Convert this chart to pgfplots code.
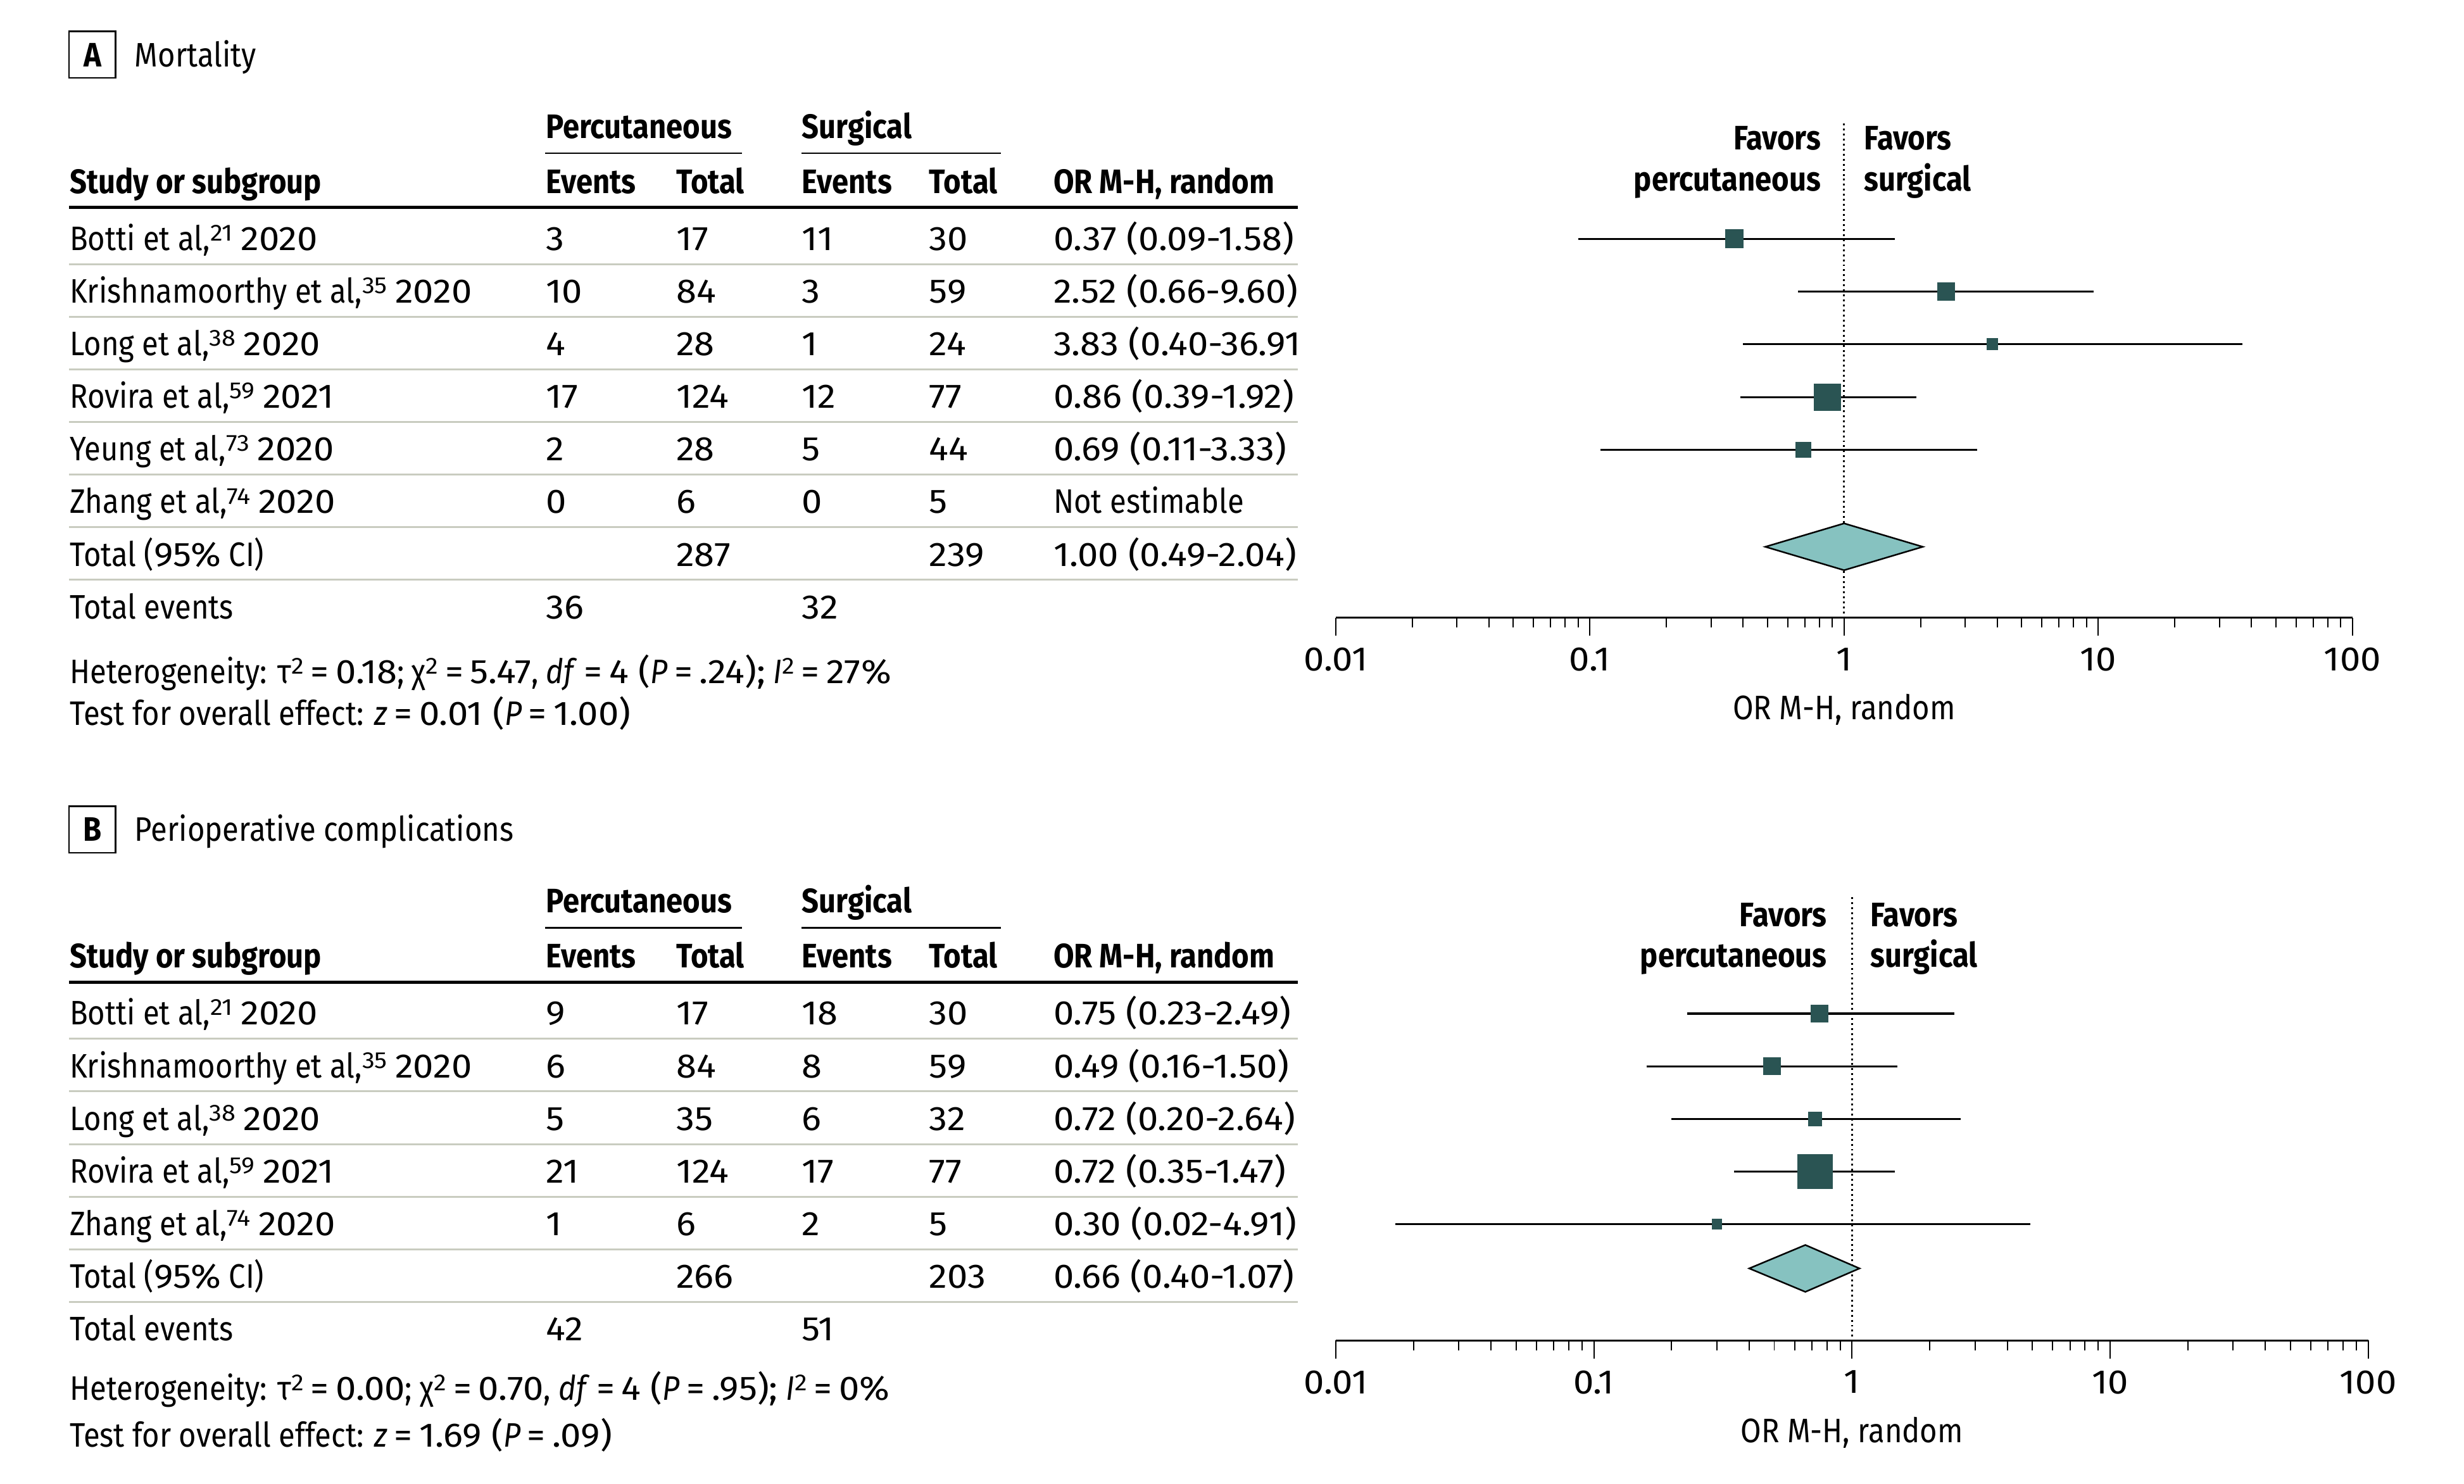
\documentclass[border=0pt]{standalone}
\usepackage{pgfplots}
\pgfplotsset{compat=1.18}
\usepackage{fontspec}
\setmainfont{Fira Sans}[FakeStretch=0.88]
\newfontfamily\nf{Fira Sans}[FakeStretch=1.08]
\definecolor{sqc}{HTML}{2A5453}
\definecolor{diac}{HTML}{86C2C0}
\definecolor{sepc}{HTML}{C9CCC0}

\newcommand\sps[1]{\raisebox{3.0pt}{\fontsize{7.4}{8}\selectfont\nf #1}}
\newcommand\eq{\kern0.2em{\nf=}\kern0.2em}

\tikzset{
  ci/.style={black, line width=0.65pt},
  sqm/.style={only marks, mark=square*, mark options={fill=sqc, draw=sqc}},
  diam/.style={fill=diac, draw=black, line width=0.5pt},
}

\begin{document}
\fontsize{10.8}{13}\selectfont
\begin{tikzpicture}
\begin{scope}[x=0.5pt, y=-0.5pt]
\useasboundingbox (0,0) rectangle (1568,944);

% panel titles and table headers
\foreach \off/\lab/\ttl in {0/A/Mortality, 493/B/Perioperative complications} {
  \draw[line width=0.5pt] (44,20+\off) rectangle (73.5,49.6+\off);
  \node[anchor=base, inner sep=0, font=\bfseries] at (58.8,42.3+\off) {\lab};
  \node[anchor=base west, inner sep=0] at (85.4,42.3+\off) {\ttl};
  \node[anchor=base west, inner sep=0, font=\bfseries] at (347,87.9+\off) {Percutaneous};
  \node[anchor=base west, inner sep=0, font=\bfseries] at (510,87.9+\off) {Surgical};
  \draw[line width=0.5pt] (347,97.4+\off) -- (472,97.4+\off);
  \draw[line width=0.5pt] (510,97.4+\off) -- (637,97.4+\off);
  \foreach \x/\t in {44/Study or subgroup, 347/Events, 430/Total, 510/Events, 591/Total, 670/{OR M-H, random}}
    \node[anchor=base west, inner sep=0, font=\bfseries] at (\x,122.9+\off) {\t};
  \draw[line width=1pt] (44,132+\off) -- (826,132+\off);
}

% panel A rows
\foreach \k/\nm/\ea/\ta/\eb/\tb/\orv in {
  1/{Botti et al,\sps{21} {\nf 2020}}/3/17/11/30/{\nf 0.37 (0.09-1.58)},
  2/{Krishnamoorthy et al,\sps{35} {\nf 2020}}/10/84/3/59/{\nf 2.52 (0.66-9.60)},
  3/{Long et al,\sps{38} {\nf 2020}}/4/28/1/24/{\nf 3.83 (0.40-36.91},
  4/{Rovira et al,\sps{59} {\nf 2021}}/17/124/12/77/{\nf 0.86 (0.39-1.92)},
  5/{Yeung et al,\sps{73} {\nf 2020}}/2/28/5/44/{\nf 0.69 (0.11-3.33)},
  6/{Zhang et al,\sps{74} {\nf 2020}}/0/6/0/5/{Not estimable},
  7/{Total ({\nf 95\%} CI)}//287//239/{\nf 1.00 (0.49-2.04)},
  8/{Total events}/36//32//{}} {
  \pgfmathsetmacro{\yb}{159.2+(\k-1)*33.5}
  \node[anchor=base west, inner sep=0] at (44,\yb) {\nm};
  \node[anchor=base west, inner sep=0] at (347,\yb) {\nf\ea};
  \node[anchor=base west, inner sep=0] at (430,\yb) {\nf\ta};
  \node[anchor=base west, inner sep=0] at (510,\yb) {\nf\eb};
  \node[anchor=base west, inner sep=0] at (591,\yb) {\nf\tb};
  \node[anchor=base west, inner sep=0] at (670,\yb) {\orv};
}
\foreach \k in {1,...,7}
  \draw[sepc, line width=0.6pt] (44,168+33.5*\k-33.5) -- (826,168+33.5*\k-33.5);

% panel B rows
\foreach \k/\nm/\ea/\ta/\eb/\tb/\orv in {
  1/{Botti et al,\sps{21} {\nf 2020}}/9/17/18/30/{\nf 0.75 (0.23-2.49)},
  2/{Krishnamoorthy et al,\sps{35} {\nf 2020}}/6/84/8/59/{\nf 0.49 (0.16-1.50)},
  3/{Long et al,\sps{38} {\nf 2020}}/5/35/6/32/{\nf 0.72 (0.20-2.64)},
  4/{Rovira et al,\sps{59} {\nf 2021}}/21/124/17/77/{\nf 0.72 (0.35-1.47)},
  5/{Zhang et al,\sps{74} {\nf 2020}}/1/6/2/5/{\nf 0.30 (0.02-4.91)},
  6/{Total ({\nf 95\%} CI)}//266//203/{\nf 0.66 (0.40-1.07)},
  7/{Total events}/42//51//{}} {
  \pgfmathsetmacro{\yb}{652.2+(\k-1)*33.5}
  \node[anchor=base west, inner sep=0] at (44,\yb) {\nm};
  \node[anchor=base west, inner sep=0] at (347,\yb) {\nf\ea};
  \node[anchor=base west, inner sep=0] at (430,\yb) {\nf\ta};
  \node[anchor=base west, inner sep=0] at (510,\yb) {\nf\eb};
  \node[anchor=base west, inner sep=0] at (591,\yb) {\nf\tb};
  \node[anchor=base west, inner sep=0] at (670,\yb) {\orv};
}
\foreach \k in {1,...,6}
  \draw[sepc, line width=0.6pt] (44,661+33.5*\k-33.5) -- (826,661+33.5*\k-33.5);

% footnotes
\node[anchor=base west, inner sep=0] at (44,435) {Heterogeneity: τ\sps{2}\eq{\nf 0.18}; χ\sps{2}\eq{\nf 5.47}, \textit{df}\eq{\nf 4 (}\textit{P}\eq{\nf .24);} \textit{I}\sps{2}\eq{\nf 27\%}};
\node[anchor=base west, inner sep=0] at (44,461.3) {Test for overall effect: \textit{z}\eq{\nf 0.01 (}\textit{P}\eq{\nf 1.00)}};
\node[anchor=base west, inner sep=0] at (44,891.1) {Heterogeneity: τ\sps{2}\eq{\nf 0.00}; χ\sps{2}\eq{\nf 0.70}, \textit{df}\eq{\nf 4 (}\textit{P}\eq{\nf .95);} \textit{I}\sps{2}\eq{\nf 0\%}};
\node[anchor=base west, inner sep=0] at (44,920.6) {Test for overall effect: \textit{z}\eq{\nf 1.69 (}\textit{P}\eq{\nf .09)}};

% favors labels
\foreach \off/\xl/\xr in {0/1159/1186, 494/1163/1190} {
  \node[anchor=base east, inner sep=0, font=\bfseries] at (\xl,95.4+\off) {Favors};
  \node[anchor=base east, inner sep=0, font=\bfseries] at (\xl,121.4+\off) {percutaneous};
  \node[anchor=base west, inner sep=0, font=\bfseries] at (\xr,95.4+\off) {Favors};
  \node[anchor=base west, inner sep=0, font=\bfseries] at (\xr,121.4+\off) {surgical};
}
\end{scope}

% panel A forest plot
\begin{axis}[at={(425pt,-196.5pt)}, anchor=south west,
  scale only axis, width=323.5pt, height=157.2pt,
  xmode=log, xmin=0.01, xmax=100, ymin=-1.188, ymax=8.183, y dir=reverse,
  axis x line*=bottom, axis y line=none, clip=false,
  xtick={0.01,0.1,1,10,100}, xticklabels={0.01,0.1,1,10,100},
  minor xtick={0.02,0.03,0.04,0.05,0.06,0.07,0.08,0.09,0.2,0.3,0.4,0.5,0.6,0.7,0.8,0.9,2,3,4,5,6,7,8,9,20,30,40,50,60,70,80,90},
  tick align=outside, major tick length=5.8pt, minor tick length=3.2pt,
  every tick/.style={black, line width=0.4pt},
  axis line style={black, line width=0.5pt},
  xticklabel style={font=\nf},
  xlabel={OR M-H, random},
  xlabel style={at={(axis description cs:0.5,0)}, anchor=base, yshift=-32.5pt}]
\addplot[black, densely dotted, line width=0.6pt] coordinates {(1,-1.188) (1,8.183)};
\addplot[ci] coordinates {(0.09,1) (1.58,1)};
\addplot[sqm, mark size=2.8pt] coordinates {(0.37,1)};
\addplot[ci] coordinates {(0.66,2) (9.60,2)};
\addplot[sqm, mark size=2.7pt] coordinates {(2.52,2)};
\addplot[ci] coordinates {(0.40,3) (36.91,3)};
\addplot[sqm, mark size=1.7pt] coordinates {(3.83,3)};
\addplot[ci] coordinates {(0.39,4) (1.92,4)};
\addplot[sqm, mark size=4.1pt] coordinates {(0.86,4)};
\addplot[ci] coordinates {(0.11,5) (3.33,5)};
\addplot[sqm, mark size=2.3pt] coordinates {(0.69,5)};
\addplot[diam] coordinates {(0.49,6.84) (1.00,6.396) (2.04,6.84) (1.00,7.284)} -- cycle;
\end{axis}

% panel B forest plot
\begin{axis}[at={(425pt,-426.5pt)}, anchor=south west,
  scale only axis, width=328.5pt, height=141pt,
  xmode=log, xmin=0.01, xmax=100, ymin=-1.209, ymax=7.209, y dir=reverse,
  axis x line*=bottom, axis y line=none, clip=false,
  xtick={0.01,0.1,1,10,100}, xticklabels={0.01,0.1,1,10,100},
  minor xtick={0.02,0.03,0.04,0.05,0.06,0.07,0.08,0.09,0.2,0.3,0.4,0.5,0.6,0.7,0.8,0.9,2,3,4,5,6,7,8,9,20,30,40,50,60,70,80,90},
  tick align=outside, major tick length=5.8pt, minor tick length=3.2pt,
  every tick/.style={black, line width=0.4pt},
  axis line style={black, line width=0.5pt},
  xticklabel style={font=\nf},
  xlabel={OR M-H, random},
  xlabel style={at={(axis description cs:0.5,0)}, anchor=base, yshift=-32.5pt}]
\addplot[black, densely dotted, line width=0.6pt] coordinates {(1,-1.209) (1,7.209)};
\addplot[ci] coordinates {(0.23,1) (2.49,1)};
\addplot[sqm, mark size=2.6pt] coordinates {(0.75,1)};
\addplot[ci] coordinates {(0.16,2) (1.50,2)};
\addplot[sqm, mark size=2.6pt] coordinates {(0.49,2)};
\addplot[ci] coordinates {(0.20,3) (2.64,3)};
\addplot[sqm, mark size=2.1pt] coordinates {(0.72,3)};
\addplot[ci] coordinates {(0.35,4) (1.47,4)};
\addplot[sqm, mark size=5.4pt] coordinates {(0.72,4)};
\addplot[ci] coordinates {(0.017,5) (4.91,5)};
\addplot[sqm, mark size=1.5pt] coordinates {(0.30,5)};
\addplot[diam] coordinates {(0.40,5.84) (0.66,5.395) (1.07,5.84) (0.66,6.285)} -- cycle;
\end{axis}
\end{tikzpicture}
\end{document}
